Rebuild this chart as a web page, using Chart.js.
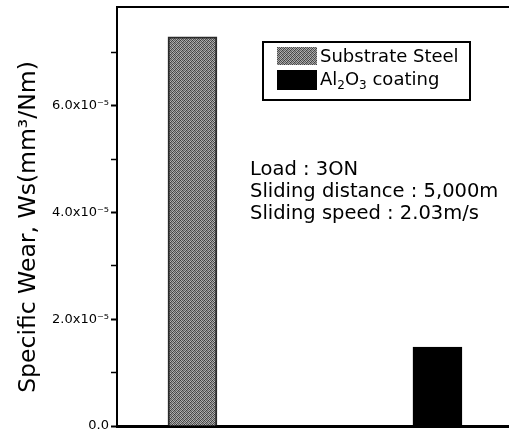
<!DOCTYPE html>
<html>
<head>
<meta charset="utf-8">
<script src="https://cdn.jsdelivr.net/npm/chart.js@4"></script>
<style>
  html, body { margin: 0; padding: 0; background: #fff; }
  #wrap { position: relative; width: 509px; height: 430px; }
</style>
</head>
<body>
<div id="wrap"><canvas id="chart" width="509" height="430"></canvas></div>
<script>
// data
const categories = ["Substrate Steel", "Al2O3 coating"];
const wearValues = [7.29e-5, 1.48e-5];
const yTickValues = [0, 2e-5, 4e-5, 6e-5];
const testConditions = ["Load : 3ON", "Sliding distance : 5,000m", "Sliding speed : 2.03m/s"];
const yTitle = "Specific Wear, Ws(mm\u00B3/Nm)";

const FONT = "'DejaVu Sans', sans-serif";

// grey stipple fill for the steel bar
function makeStipple() {
  const c = document.createElement("canvas");
  c.width = 4;
  c.height = 4;
  const g = c.getContext("2d");
  const shades = [
    [60, 175, 95, 160],
    [165, 80, 185, 70],
    [105, 170, 65, 150],
    [180, 75, 150, 90],
  ];
  for (let y = 0; y < 4; y++) {
    for (let x = 0; x < 4; x++) {
      const s = shades[y][x];
      g.fillStyle = `rgb(${s},${s},${s})`;
      g.fillRect(x, y, 1, 1);
    }
  }
  return c;
}

const ctx = document.getElementById("chart").getContext("2d");
const stipple = ctx.createPattern(makeStipple(), "repeat");
const barFills = [stipple, "#000000"];
const barBorders = ["#2a2a2a", "#000000"];

function tickLabel(v) {
  if (Math.abs(v) < 1e-12) return "0.0";
  return (v * 1e5).toFixed(1) + "x10\u207B\u2075";
}

// legend box, test conditions and y title
const notesPlugin = {
  id: "notes",
  afterDraw(chart) {
    const c = chart.ctx;
    c.save();
    c.strokeStyle = "#000";
    c.lineWidth = 2;
    c.strokeRect(263, 42, 207, 58);
    c.fillStyle = stipple;
    c.fillRect(277, 47, 40, 18);
    c.fillStyle = "#000";
    c.fillRect(277, 70, 40, 20);

    c.fillStyle = "#000";
    c.textBaseline = "middle";
    c.textAlign = "left";
    c.font = "18px " + FONT;
    c.fillText(categories[0], 320, 57);
    let x = 320;
    const y2 = 80;
    const parts = [["Al", 0], ["2", 1], ["O", 0], ["3", 1], [" coating", 0]];
    parts.forEach(([t, sub]) => {
      c.font = (sub ? "12px " : "18px ") + FONT;
      c.fillText(t, x, sub ? y2 + 6 : y2);
      x += c.measureText(t).width;
    });

    c.font = "19.5px " + FONT;
    testConditions.forEach((t, i) => {
      c.fillText(t, 250, 170 + i * 22);
    });

    c.translate(29, 227);
    c.rotate(-Math.PI / 2);
    c.textAlign = "center";
    c.font = "23.5px " + FONT;
    c.fillText(yTitle, 0, 0);
    c.restore();
  },
};

new Chart(ctx, {
  type: "bar",
  data: {
    datasets: [
      {
        label: "Specific wear",
        data: categories.map((name, i) => ({ x: i + 1, y: wearValues[i] })),
        backgroundColor: barFills,
        borderColor: barBorders,
        borderWidth: 2,
        borderSkipped: "bottom",
        barThickness: 49,
      },
    ],
  },
  options: {
    responsive: false,
    animation: false,
    layout: { padding: { top: 7, right: 0, bottom: 4, left: 0 } },
    plugins: {
      legend: { display: false },
      tooltip: { enabled: false },
    },
    scales: {
      x: {
        type: "linear",
        position: "bottom",
        offset: false,
        min: 0.692,
        max: 2.292,
        grid: { display: false },
        ticks: { display: false },
        border: { display: true, color: "#000", width: 3 },
        afterFit: (s) => { s.height = 0; },
      },
      xTop: {
        type: "linear",
        position: "top",
        display: true,
        offset: false,
        min: 0,
        max: 1,
        grid: { display: false },
        ticks: { display: false },
        border: { display: true, color: "#000", width: 2 },
        afterFit: (s) => { s.height = 0; },
      },
      y: {
        min: 0,
        max: 7.85e-5,
        ticks: {
          stepSize: 1e-5,
          color: "#000",
          font: { family: FONT, size: 13 },
          padding: 2,
          callback: (v) => (yTickValues.some((t) => Math.abs(t - v) < 1e-9) ? tickLabel(v) : ""),
        },
        afterBuildTicks: (s) => {
          s.ticks = s.ticks.filter((t) => Math.abs(t.value * 1e5 - Math.round(t.value * 1e5)) < 1e-6);
        },
        grid: {
          drawOnChartArea: false,
          drawTicks: true,
          tickLength: 6,
          tickColor: "#000",
          tickWidth: (c) => (yTickValues.some((t) => Math.abs(t - c.tick.value) < 1e-9) ? 2 : 1.5),
        },
        border: { display: true, color: "#000", width: 2 },
        title: { display: false },
        afterFit: (s) => {
          s.width = 117;
          s.paddingTop = 0;
          s.paddingBottom = 0;
        },
      },
    },
  },
  plugins: [notesPlugin],
});
</script>
</body>
</html>
